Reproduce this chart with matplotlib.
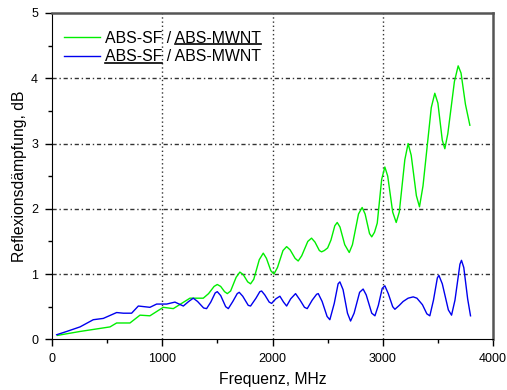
import numpy as np
import matplotlib
matplotlib.use('Agg')
import matplotlib.pyplot as plt
from matplotlib.lines import Line2D
from matplotlib.text import Text

plt.rcParams['font.family'] = ['Liberation Sans', 'DejaVu Sans']

# ABS-SF / ABS-MWNT (green)
f_green = [50, 254, 526, 586, 707, 798, 888, 1009, 1100, 1251, 1372, 1420, 1470, 1499,
           1530, 1565, 1590, 1620, 1670, 1704, 1735, 1775, 1801, 1830, 1880, 1916,
           1945, 1985, 2013, 2045, 2095, 2128, 2160, 2205, 2233, 2265, 2320, 2354,
           2385, 2425, 2445, 2470, 2500, 2530, 2565, 2587, 2612, 2655, 2696, 2725,
           2780, 2813, 2840, 2880, 2900, 2925, 2950, 2990, 3019, 3045, 3090, 3122,
           3150, 3200, 3230, 3258, 3305, 3333, 3365, 3440, 3472, 3500, 3540, 3563,
           3590, 3650, 3684, 3710, 3750, 3790]
v_green = [0.06, 0.12, 0.19, 0.25, 0.25, 0.37, 0.36, 0.49, 0.47, 0.63, 0.63, 0.70, 0.81, 0.84,
           0.81, 0.73, 0.70, 0.74, 0.95, 1.03, 0.99, 0.88, 0.85, 0.92, 1.22, 1.32,
           1.24, 1.05, 1.00, 1.10, 1.36, 1.42, 1.37, 1.24, 1.20, 1.28, 1.50, 1.55,
           1.49, 1.36, 1.34, 1.36, 1.40, 1.52, 1.74, 1.79, 1.72, 1.45, 1.33, 1.45,
           1.92, 2.02, 1.92, 1.62, 1.57, 1.64, 1.78, 2.45, 2.64, 2.50, 1.95, 1.79,
           1.95, 2.75, 3.00, 2.82, 2.20, 2.03, 2.35, 3.55, 3.77, 3.62, 3.05, 2.92,
           3.15, 3.95, 4.19, 4.08, 3.60, 3.28]

# ABS-SF / ABS-MWNT (blue)
f_blue = [42, 133, 254, 374, 465, 586, 647, 722, 783, 888, 949, 1040, 1115, 1191,
          1240, 1281, 1320, 1375, 1402, 1440, 1480, 1499, 1530, 1575, 1599, 1640,
          1680, 1698, 1730, 1780, 1801, 1850, 1885, 1901, 1930, 1970, 1992, 2030,
          2067, 2100, 2128, 2165, 2209, 2250, 2290, 2315, 2360, 2400, 2415, 2450,
          2495, 2520, 2560, 2595, 2611, 2640, 2680, 2708, 2740, 2790, 2822, 2850,
          2900, 2929, 2960, 2995, 3019, 3050, 3090, 3110, 3150, 3185, 3230, 3276,
          3310, 3360, 3400, 3427, 3460, 3495, 3509, 3540, 3595, 3624, 3655, 3700,
          3714, 3735, 3770, 3796]
v_blue = [0.07, 0.12, 0.19, 0.30, 0.32, 0.41, 0.40, 0.40, 0.51, 0.49, 0.54, 0.54, 0.57, 0.51,
          0.58, 0.63, 0.58, 0.48, 0.47, 0.57, 0.71, 0.73, 0.67, 0.50, 0.47, 0.58,
          0.70, 0.72, 0.66, 0.52, 0.51, 0.63, 0.73, 0.74, 0.68, 0.57, 0.55, 0.62,
          0.66, 0.57, 0.51, 0.62, 0.70, 0.60, 0.49, 0.47, 0.60, 0.69, 0.70, 0.58,
          0.35, 0.30, 0.55, 0.85, 0.88, 0.76, 0.40, 0.28, 0.40, 0.72, 0.77, 0.68,
          0.40, 0.36, 0.52, 0.78, 0.82, 0.70, 0.50, 0.46, 0.52, 0.58, 0.63, 0.65,
          0.63, 0.53, 0.39, 0.36, 0.60, 0.94, 0.98, 0.85, 0.45, 0.37, 0.60, 1.15,
          1.21, 1.10, 0.62, 0.36]

lab_green = 'ABS-SF / ABS-MWNT'
lab_blue = 'ABS-SF / ABS-MWNT'

fig = plt.figure(figsize=(5.07, 3.90), dpi=100)
ax = fig.add_axes([0.1026, 0.130, 0.8698, 0.8367])

ax.plot(f_green, v_green, color='#00ee00', lw=1.0, label=lab_green)
ax.plot(f_blue, v_blue, color='#0000ee', lw=1.0, label=lab_blue)

ax.set_xlim(0, 4000)
ax.set_ylim(0, 5)
ax.set_xticks([0, 1000, 2000, 3000, 4000])
ax.set_xticks([500, 1500, 2500, 3500], minor=True)
ax.set_yticks([0, 1, 2, 3, 4, 5])
ax.set_yticks([0.5, 1.5, 2.5, 3.5, 4.5], minor=True)
ax.tick_params(which='major', direction='out', length=5, width=1, labelsize=9, pad=5)
ax.tick_params(which='minor', direction='out', length=3, width=1)

# grid: vertical dotted, horizontal dash-dot
for xv in [1000, 2000, 3000]:
    ax.axvline(xv, color='#333333', lw=1.0, ls=(0, (1, 2)), zorder=0)
for yv in [1, 2, 3, 4]:
    ax.axhline(yv, color='#333333', lw=1.0, ls=(0, (3, 2, 1, 2)), zorder=0)

ax.spines['left'].set_color('black')
ax.spines['bottom'].set_color('black')
for s in ['top', 'right']:
    ax.spines[s].set_color('#555555')
    ax.spines[s].set_linewidth(1.8)

ax.set_xlabel('Frequenz, MHz', fontsize=11.3, labelpad=5)
ax.set_ylabel('Reflexionsdämpfung, dB', fontsize=11.3, labelpad=3)

leg = ax.legend(loc='upper left', frameon=False, fontsize=11.4,
                handlelength=2.28, handletextpad=0.32, labelspacing=0.24,
                borderaxespad=0, borderpad=0, bbox_to_anchor=(0.027, 0.946))

# underline parts of the legend labels
fig.canvas.draw()
r = fig.canvas.get_renderer()
texts = leg.get_texts()
fp = texts[0].get_fontproperties()
def text_w(s):
    t = Text(0, 0, s, fontproperties=fp, figure=fig)
    return t.get_window_extent(r).width
W, H = fig.bbox.width, fig.bbox.height
for i, t in enumerate(texts):
    bb = t.get_window_extent(r)
    yy = bb.y0 + 0.17 * fp.get_size_in_points() * 100 / 72 - 1.5
    if i == 0:
        x0, x1 = bb.x1 - text_w('ABS-MWNT'), bb.x1
    else:
        x0, x1 = bb.x0, bb.x0 + text_w('ABS-SF')
    fig.add_artist(Line2D([x0 / W, x1 / W], [yy / H, yy / H], color='black', lw=1.2))

fig.savefig('out.png', dpi=100)
